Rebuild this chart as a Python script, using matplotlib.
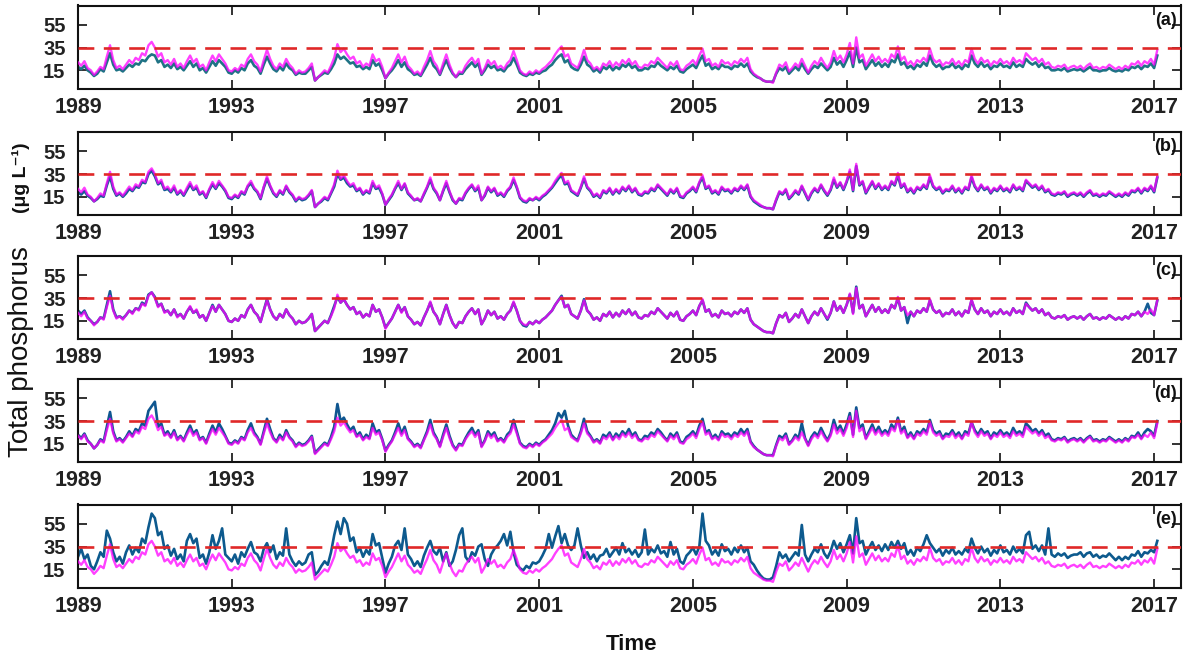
import numpy as np
import matplotlib
matplotlib.use("Agg")
import matplotlib.pyplot as plt

plt.rcParams['font.family'] = ['Liberation Sans', 'DejaVu Sans']

# ---------------- data (monthly, Jan 1989 - Feb 2017) ----------------
start_year = 1989
x_ticks = [1989, 1993, 1997, 2001, 2005, 2009, 2013, 2017]
y_ticks = [15, 35, 55]
threshold = 35
panel_labels = ['(a)', '(b)', '(c)', '(d)', '(e)']

# magenta series (same in every panel)
tp_magenta = [
    22, 19, 23, 17, 15, 11, 14, 18, 16, 27, 37, 24,
    17, 19, 16, 20, 24, 21, 26, 24, 30, 28, 37, 40,
    35, 27, 30, 22, 24, 20, 25, 18, 21, 17, 23, 28,
    22, 25, 18, 20, 15, 22, 28, 23, 29, 25, 21, 15,
    14, 17, 15, 20, 18, 25, 29, 23, 20, 14, 24, 33,
    25, 19, 16, 21, 18, 25, 20, 17, 12, 15, 13, 14,
    17, 21, 6, 9, 12, 15, 13, 19, 26, 38, 31, 34,
    29, 25, 27, 21, 23, 18, 21, 19, 29, 23, 25, 18,
    8, 13, 17, 23, 29, 22, 27, 19, 16, 12, 14, 11,
    18, 24, 32, 23, 19, 12, 21, 29, 20, 13, 9, 14,
    13, 19, 23, 26, 21, 25, 12, 17, 24, 20, 23, 17,
    19, 16, 21, 24, 32, 24, 15, 12, 11, 14, 12, 15,
    13, 16, 18, 21, 24, 29, 33, 36, 27, 29, 21, 19,
    17, 24, 33, 24, 21, 16, 18, 15, 21, 19, 23, 18,
    22, 19, 24, 21, 25, 20, 23, 18, 17, 20, 19, 23,
    21, 26, 23, 20, 17, 22, 19, 23, 16, 15, 19, 21,
    24, 20, 28, 34, 23, 25, 19, 21, 18, 24, 21, 22,
    19, 23, 21, 25, 22, 26, 16, 12, 10, 8, 6, 5,
    5, 4, 13, 20, 18, 22, 14, 17, 21, 18, 25, 19,
    13, 19, 23, 20, 26, 21, 17, 22, 32, 24, 28, 22,
    29, 39, 21, 44, 26, 29, 19, 24, 29, 23, 27, 22,
    25, 22, 29, 26, 36, 24, 27, 20, 23, 19, 24, 22,
    26, 23, 34, 25, 22, 24, 19, 22, 21, 25, 20, 23,
    19, 24, 22, 34, 25, 21, 26, 22, 24, 19, 23, 21,
    25, 21, 23, 20, 26, 22, 24, 21, 30, 27, 24, 26,
    22, 25, 20, 22, 18, 17, 19, 18, 20, 16, 18, 19,
    17, 19, 16, 19, 21, 17, 18, 16, 18, 17, 20, 18,
    16, 18, 16, 19, 17, 21, 20, 23, 19, 23, 21, 25,
    20, 33,
]

tp_blue_a = [
    18, 16, 19, 15, 13, 10, 12, 16, 14, 22, 30, 20,
    15, 16, 14, 17, 20, 18, 21, 20, 24, 23, 27, 29,
    28, 22, 24, 18, 20, 17, 21, 16, 18, 15, 19, 23,
    18, 21, 15, 17, 13, 18, 23, 19, 24, 21, 18, 13,
    12, 15, 13, 17, 15, 21, 24, 19, 17, 12, 20, 27,
    21, 16, 14, 18, 15, 21, 17, 15, 11, 13, 12, 12,
    15, 18, 6, 9, 11, 13, 12, 16, 21, 29, 25, 27,
    24, 21, 22, 18, 19, 16, 18, 16, 24, 19, 21, 15,
    8, 12, 15, 19, 24, 18, 22, 16, 14, 11, 12, 10,
    15, 20, 26, 19, 16, 11, 18, 24, 17, 12, 9, 12,
    12, 16, 19, 22, 18, 21, 11, 15, 20, 17, 19, 15,
    16, 14, 18, 20, 26, 20, 13, 11, 10, 12, 11, 13,
    12, 14, 15, 18, 20, 24, 27, 29, 22, 24, 18, 16,
    15, 20, 27, 20, 18, 14, 16, 13, 18, 16, 19, 15,
    18, 16, 20, 18, 21, 17, 19, 15, 15, 17, 16, 19,
    18, 22, 19, 17, 15, 18, 16, 19, 14, 13, 16, 18,
    20, 17, 23, 28, 19, 21, 16, 18, 16, 20, 18, 18,
    16, 19, 18, 21, 18, 21, 14, 11, 9, 8, 6, 5,
    5, 5, 12, 17, 15, 18, 12, 15, 18, 15, 21, 16,
    12, 16, 19, 17, 21, 18, 15, 18, 26, 20, 23, 18,
    24, 31, 18, 35, 22, 24, 16, 20, 24, 19, 22, 18,
    21, 18, 24, 22, 29, 20, 22, 17, 19, 16, 20, 18,
    22, 19, 28, 21, 18, 20, 16, 18, 18, 21, 17, 19,
    16, 20, 18, 28, 21, 18, 22, 18, 20, 16, 19, 18,
    21, 18, 19, 17, 22, 18, 20, 18, 25, 22, 20, 22,
    18, 21, 17, 18, 15, 15, 16, 15, 17, 14, 15, 16,
    15, 16, 14, 16, 18, 15, 15, 14, 15, 15, 17, 15,
    14, 15, 14, 16, 15, 18, 17, 19, 16, 19, 18, 21,
    17, 28,
]

tp_blue_b = [
    19, 17, 20, 16, 14, 11, 13, 16, 15, 25, 33, 22,
    16, 18, 15, 18, 22, 20, 24, 23, 28, 27, 35, 38,
    33, 26, 28, 21, 22, 19, 23, 17, 20, 16, 21, 26,
    21, 23, 17, 19, 14, 21, 26, 22, 27, 24, 20, 14,
    13, 16, 14, 19, 17, 24, 27, 22, 19, 13, 23, 31,
    24, 18, 15, 20, 17, 24, 19, 16, 11, 14, 12, 13,
    16, 20, 6, 9, 11, 14, 12, 18, 24, 35, 30, 32,
    27, 24, 25, 20, 22, 17, 20, 18, 27, 22, 23, 17,
    8, 12, 16, 22, 27, 21, 26, 18, 15, 12, 13, 11,
    17, 23, 30, 22, 18, 12, 20, 27, 19, 12, 9, 13,
    12, 18, 22, 25, 20, 23, 12, 16, 23, 19, 22, 16,
    18, 15, 20, 23, 30, 23, 14, 11, 10, 13, 12, 14,
    12, 15, 17, 20, 23, 27, 31, 34, 26, 27, 20, 18,
    16, 23, 31, 23, 20, 15, 17, 14, 20, 18, 22, 17,
    21, 18, 23, 20, 24, 19, 22, 17, 16, 19, 18, 22,
    20, 25, 22, 19, 16, 21, 18, 22, 15, 14, 18, 20,
    23, 19, 27, 32, 22, 24, 18, 20, 17, 23, 20, 21,
    18, 22, 20, 24, 21, 25, 15, 11, 9, 7, 6, 5,
    5, 4, 12, 19, 17, 21, 13, 16, 20, 17, 24, 18,
    12, 18, 22, 19, 25, 20, 16, 21, 30, 23, 27, 21,
    28, 37, 20, 42, 25, 28, 18, 23, 28, 22, 26, 21,
    24, 21, 28, 25, 34, 23, 26, 19, 22, 18, 23, 21,
    25, 22, 32, 24, 21, 23, 18, 21, 20, 24, 19, 22,
    18, 23, 21, 32, 24, 20, 25, 21, 23, 18, 22, 20,
    24, 20, 22, 19, 25, 21, 23, 20, 29, 26, 23, 25,
    21, 24, 19, 21, 17, 16, 18, 17, 19, 15, 17, 18,
    16, 18, 15, 18, 20, 16, 17, 15, 17, 16, 19, 17,
    15, 17, 15, 18, 16, 20, 19, 22, 18, 22, 20, 24,
    19, 32,
]

tp_blue_c = [
    24, 21, 24, 18, 15, 12, 14, 18, 17, 29, 41, 25,
    18, 19, 17, 20, 24, 22, 26, 25, 31, 29, 38, 40,
    36, 28, 30, 23, 24, 20, 25, 19, 21, 17, 23, 27,
    22, 24, 18, 20, 15, 22, 29, 23, 29, 25, 21, 15,
    14, 17, 15, 20, 18, 25, 29, 23, 20, 14, 24, 34,
    25, 19, 16, 21, 18, 25, 20, 17, 12, 15, 13, 14,
    17, 21, 6, 9, 12, 15, 13, 20, 28, 36, 31, 34,
    29, 25, 27, 21, 23, 18, 21, 19, 29, 23, 25, 18,
    9, 13, 17, 23, 29, 23, 27, 19, 16, 12, 14, 11,
    18, 24, 31, 23, 19, 12, 21, 29, 20, 13, 9, 14,
    13, 19, 23, 26, 21, 25, 12, 17, 24, 20, 23, 17,
    19, 16, 21, 24, 31, 24, 15, 11, 10, 14, 12, 15,
    13, 16, 18, 21, 24, 29, 33, 37, 27, 29, 21, 19,
    17, 24, 34, 24, 21, 16, 18, 15, 21, 19, 23, 18,
    22, 19, 24, 21, 25, 20, 23, 18, 17, 20, 19, 23,
    21, 26, 23, 20, 17, 22, 19, 23, 16, 15, 19, 21,
    24, 20, 28, 33, 23, 25, 19, 21, 18, 24, 21, 22,
    19, 23, 21, 25, 22, 26, 16, 12, 10, 8, 6, 5,
    5, 4, 13, 20, 18, 22, 14, 17, 21, 18, 25, 19,
    13, 19, 23, 20, 26, 21, 16, 22, 32, 24, 28, 22,
    29, 38, 22, 45, 26, 29, 19, 24, 29, 23, 27, 22,
    25, 22, 29, 26, 35, 24, 27, 13, 23, 19, 24, 22,
    26, 23, 33, 25, 22, 24, 19, 22, 21, 25, 20, 23,
    19, 24, 22, 33, 25, 21, 26, 22, 24, 19, 23, 21,
    25, 21, 23, 20, 26, 22, 24, 21, 31, 27, 24, 26,
    22, 25, 20, 22, 18, 17, 19, 18, 20, 16, 18, 19,
    17, 19, 16, 19, 21, 17, 18, 16, 18, 17, 20, 18,
    16, 18, 16, 19, 17, 21, 20, 23, 19, 23, 30, 22,
    20, 33,
]

tp_blue_d = [
    23, 20, 24, 18, 15, 11, 14, 19, 17, 30, 43, 26,
    18, 20, 17, 21, 26, 22, 28, 26, 33, 31, 44, 48,
    52, 30, 33, 23, 26, 21, 27, 19, 22, 18, 25, 31,
    24, 27, 19, 21, 16, 24, 31, 25, 33, 28, 22, 16,
    15, 18, 16, 21, 19, 27, 33, 25, 21, 15, 26, 37,
    28, 20, 17, 23, 19, 27, 21, 18, 13, 16, 14, 15,
    18, 22, 7, 10, 13, 16, 14, 21, 30, 50, 35, 38,
    32, 27, 30, 22, 25, 19, 23, 20, 33, 25, 27, 19,
    9, 14, 18, 25, 33, 24, 30, 20, 17, 13, 15, 12,
    19, 26, 36, 25, 20, 13, 23, 32, 22, 14, 10, 15,
    14, 20, 25, 29, 23, 27, 13, 18, 26, 22, 25, 18,
    20, 17, 23, 26, 36, 26, 16, 13, 12, 15, 13, 16,
    14, 17, 19, 23, 27, 33, 42, 38, 44, 31, 23, 20,
    18, 26, 37, 26, 22, 17, 19, 16, 23, 21, 25, 19,
    24, 21, 26, 23, 28, 22, 25, 19, 18, 22, 21, 25,
    23, 28, 25, 21, 18, 24, 21, 25, 17, 16, 21, 23,
    26, 22, 31, 37, 25, 27, 20, 23, 19, 26, 23, 24,
    21, 25, 23, 28, 24, 28, 17, 13, 10, 8, 6, 5,
    5, 5, 14, 22, 20, 24, 15, 18, 23, 20, 33, 20,
    14, 21, 25, 22, 29, 23, 18, 24, 36, 27, 31, 24,
    32, 42, 23, 47, 29, 32, 20, 26, 32, 25, 30, 24,
    27, 24, 32, 28, 38, 26, 30, 21, 25, 20, 26, 24,
    28, 25, 36, 27, 24, 26, 20, 24, 23, 27, 22, 25,
    20, 26, 24, 34, 27, 23, 28, 24, 26, 20, 25, 23,
    27, 23, 25, 22, 29, 24, 26, 23, 33, 30, 26, 28,
    24, 27, 22, 24, 19, 18, 20, 19, 21, 17, 19, 20,
    18, 20, 17, 20, 22, 18, 19, 17, 19, 18, 21, 19,
    17, 19, 17, 20, 18, 22, 21, 25, 20, 25, 28, 26,
    22, 35,
]

tp_blue_e = [
    26, 33, 24, 28, 18, 15, 22, 30, 26, 49, 42, 30,
    22, 26, 20, 30, 36, 28, 34, 30, 42, 38, 52, 64,
    60, 45, 48, 33, 36, 27, 33, 24, 28, 22, 40, 46,
    38, 42, 25, 28, 20, 30, 45, 33, 40, 51, 28, 25,
    22, 28, 20, 30, 26, 33, 39, 30, 28, 22, 33, 38,
    30, 36, 24, 30, 27, 51, 28, 22, 18, 22, 19, 21,
    28, 30, 10, 13, 18, 22, 19, 30, 45, 57, 46, 60,
    55, 40, 43, 30, 34, 26, 32, 28, 46, 36, 38, 25,
    12, 20, 26, 36, 40, 32, 51, 28, 24, 18, 22, 17,
    27, 34, 40, 31, 28, 34, 22, 30, 18, 22, 32, 45,
    51, 26, 22, 30, 27, 35, 37, 24, 18, 28, 33, 36,
    40, 46, 36, 48, 30, 19, 16, 14, 18, 16, 21, 20,
    22, 27, 33, 46, 34, 44, 53, 38, 46, 36, 32, 36,
    51, 36, 25, 30, 24, 28, 22, 27, 28, 33, 26, 30,
    34, 28, 38, 30, 33, 28, 32, 26, 30, 50, 28, 33,
    30, 36, 29, 31, 26, 39, 28, 33, 22, 20, 27, 30,
    34, 28, 35, 64, 40, 36, 28, 32, 27, 37, 31, 33,
    28, 34, 30, 36, 30, 34, 22, 19, 14, 10, 7, 6,
    6, 8, 18, 30, 25, 28, 22, 26, 30, 27, 54, 28,
    22, 28, 33, 30, 37, 29, 25, 31, 40, 33, 38, 30,
    37, 45, 29, 60, 38, 40, 28, 34, 39, 32, 36, 31,
    37, 32, 39, 34, 40, 33, 38, 28, 32, 27, 34, 31,
    37, 45, 38, 34, 30, 33, 27, 32, 29, 34, 28, 31,
    28, 33, 30, 42, 34, 29, 35, 30, 33, 27, 32, 29,
    36, 30, 32, 28, 35, 30, 33, 29, 45, 48, 33, 36,
    31, 36, 28, 51, 28, 26, 29, 27, 29, 25, 27, 28,
    28, 30, 26, 29, 30, 26, 28, 25, 27, 26, 29, 26,
    23, 26, 23, 26, 24, 28, 27, 31, 26, 30, 29, 32,
    30, 40,
]

blue_series = [tp_blue_a, tp_blue_b, tp_blue_c, tp_blue_d, tp_blue_e]
blue_colors = ['#1f7385', '#135c94', '#135c94', '#0f5690', '#0d5a8e']

# ---------------- figure ----------------
W, H = 1186, 659
fig = plt.figure(figsize=(W / 100, H / 100), dpi=100)

left_px, right_px = 78, 1181
panel_tops = [5.5, 132, 256, 379, 504.5]
panel_h = 83

for k, top in enumerate(panel_tops):
    ax = fig.add_axes([left_px / W, 1 - (top + panel_h) / H,
                       (right_px - left_px) / W, panel_h / H])
    blue = blue_series[k]
    tb = start_year + np.arange(len(blue)) / 12.0
    tm = start_year + np.arange(len(tp_magenta)) / 12.0
    ax.plot(tb, blue, color=blue_colors[k], lw=1.9, zorder=2)
    ax.plot(tm, tp_magenta, color='#ff00ff', lw=1.7, alpha=0.75, zorder=3)
    ax.axhline(threshold, color='#e02828', lw=1.9, dashes=(6, 3.6), zorder=4)

    ax.set_xlim(1989, 2017.7)
    ax.set_ylim(-1, 72)
    ax.set_xticks(x_ticks)
    ax.set_xticklabels([str(v) for v in x_ticks], fontsize=15.5, fontweight='bold')
    ax.set_yticks(y_ticks)
    ax.set_yticklabels([str(v) for v in y_ticks], fontsize=14.5, fontweight='bold')
    ax.tick_params(direction='in', length=6.5, width=1.3, top=True, right=True,
                   colors='#222222')
    ax.tick_params(axis='x', pad=6)
    ax.tick_params(axis='y', pad=9)
    for sp in ax.spines.values():
        sp.set_linewidth(1.5)
        sp.set_color('#111111')
    ax.text(0.996, 0.82, panel_labels[k], transform=ax.transAxes, ha='right',
            va='center', fontsize=13, fontweight='bold', color='#111111')

fig.text(21 / W, 1 - 352 / H, 'Total phosphorus', rotation=90,
         ha='center', va='center', fontsize=20, color='#111111')
fig.text(21 / W, 1 - 178 / H, '(μg L⁻¹)', rotation=90,
         ha='center', va='center', fontsize=14, fontweight='bold', color='#111111')
fig.text(632 / W, 1 - 645 / H, 'Time', ha='center', va='center',
         fontsize=16, fontweight='bold', color='#111111')

fig.savefig('out.png', dpi=100)
